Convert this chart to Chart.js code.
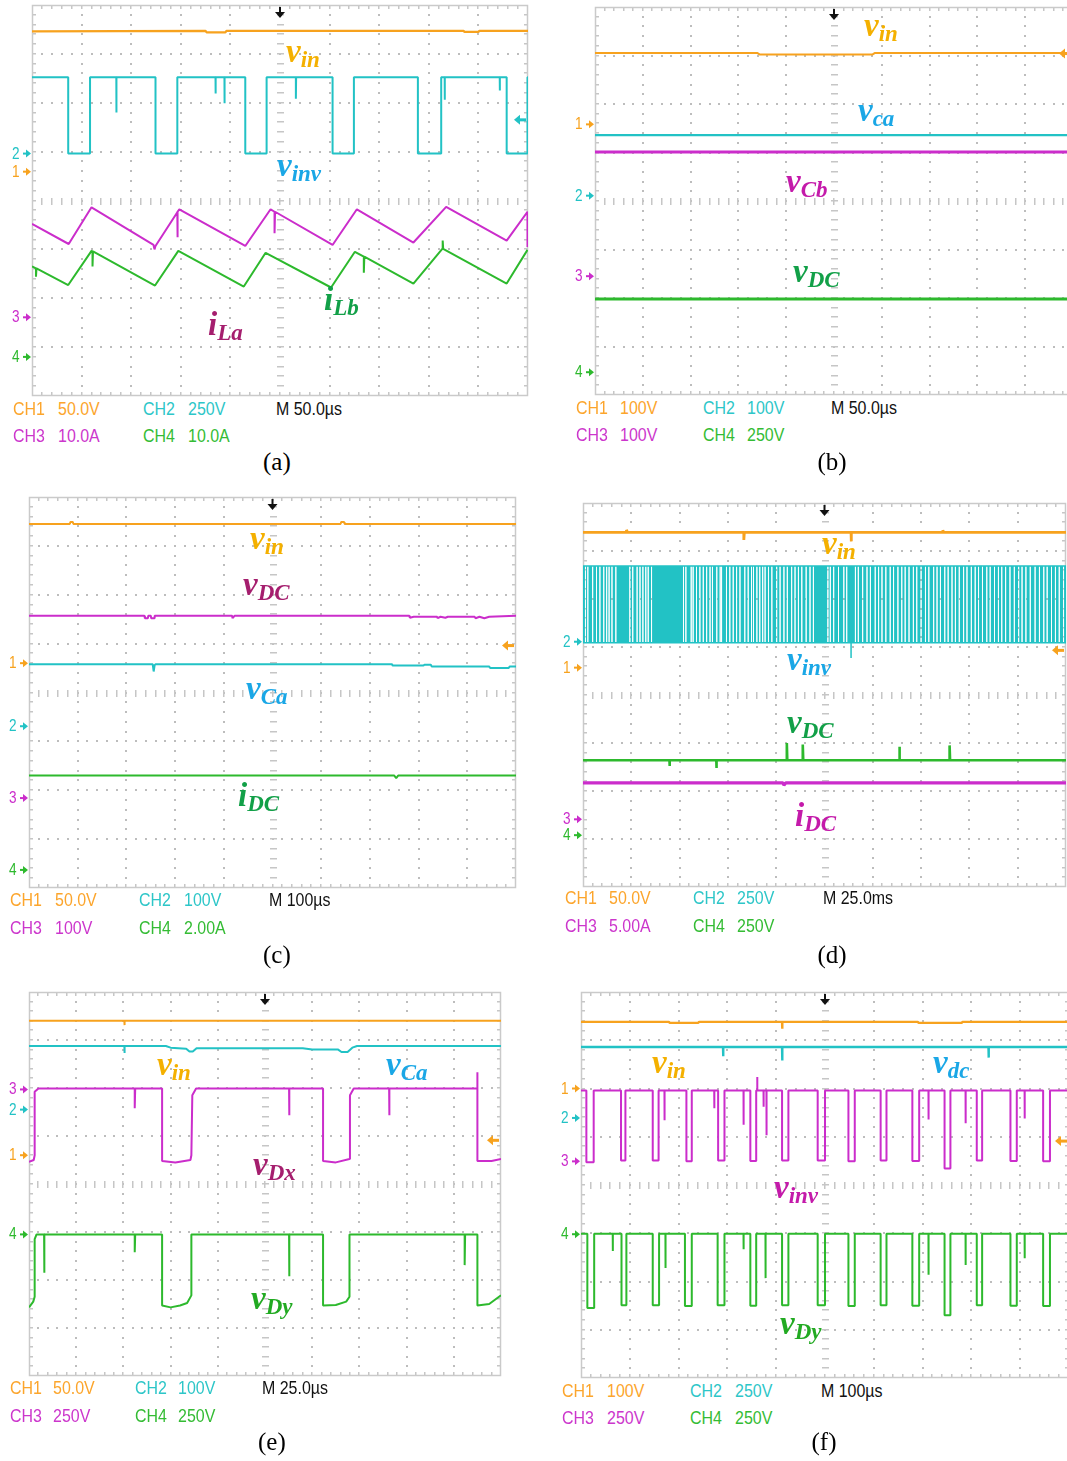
<!DOCTYPE html>
<html>
<head>
<meta charset="utf-8">
<script src="https://cdn.jsdelivr.net/npm/chart.js@4.4.1/dist/chart.umd.min.js"></script>
<style>
  html, body { margin: 0; padding: 0; background: #fff; overflow: hidden; }
  #page { position: relative; width: 1067px; height: 1461px; overflow: hidden; background: #fff; }
  #page canvas { position: absolute; }
  .lab { position: absolute; font-family: "Liberation Serif", "Times New Roman", serif; font-style: italic; font-weight: bold;
         font-size: 33px; line-height: 1; white-space: nowrap; }
  .lab sub { font-size: 23px; vertical-align: baseline; position: relative; top: 5px; }
  .st { position: absolute; font-family: "Liberation Sans", Arial, sans-serif; font-size: 19px; line-height: 1;
        white-space: nowrap; transform: scaleX(0.84); transform-origin: 0 0; }
  .gnd { position: absolute; font-family: "Liberation Sans", Arial, sans-serif; font-size: 16px; line-height: 1;
         transform: scaleX(0.85); transform-origin: 0 0; }
  .cap { position: absolute; font-family: "Liberation Serif", "Times New Roman", serif; font-size: 25px; line-height: 1;
         white-space: nowrap; }
</style>
</head>
<body>
<div id="page"></div>
<script>
// Screen units: x in horizontal divisions (0..10), y in vertical divisions (0 = bottom, 8 = top).

// ---------- (a) ----------
const aVin = [[0,7.46],[3.50,7.47],[3.52,7.44],[3.90,7.44],[3.92,7.47],[8.70,7.47],[8.72,7.45],[9.00,7.45],[9.02,7.47],[10,7.47]];
const aInvHigh = 6.52, aInvLow = 4.96;
const aInvFall = [0.73, 2.49, 4.30, 6.06, 7.78, 9.57];
const aInvRise = [1.17, 2.93, 4.73, 6.49, 8.25, 9.99];
const aInvSpikes = [[1.70,5.80],[3.70,6.19],[3.88,5.99],[5.32,6.08],[8.32,6.06],[9.43,6.25]];
const aILa = [[0,3.52],[0.74,3.11],[1.20,3.86],[2.45,3.09],[2.47,3.00],[2.49,3.07],[2.93,3.76],[2.93,3.25],[2.94,3.77],
              [2.97,3.82],[4.30,3.07],[4.81,3.82],[4.89,3.77],[4.89,3.33],[4.90,3.77],[6.06,3.09],[6.55,3.82],
              [7.69,3.14],[8.35,3.87],[9.57,3.18],[9.99,3.77],[9.99,3.05]];
const aILb = [[0,2.65],[0.08,2.61],[0.08,2.44],[0.09,2.61],[0.73,2.27],[1.20,2.97],[1.22,2.96],[1.22,2.65],[1.23,2.96],
              [2.48,2.26],[2.95,2.97],[4.27,2.24],[4.71,2.93],[6.03,2.22],[6.51,2.95],[6.69,2.85],[6.69,2.52],
              [6.70,2.85],[7.69,2.30],[8.28,3.02],[8.28,3.18],[8.29,3.01],[9.57,2.30],[9.99,2.99]];
const aGnd = [4.59, 4.96, 1.61, 0.80];   // CH1..CH4 ground markers
const aTrig = 5.65;
const aSet = ['50.0V', '250V', '10.0A', '10.0A', 'M 50.0\u00b5s'];

// ---------- (b) ----------
const bVin = [[0,7.05],[3.40,7.05],[3.45,7.02],[5.80,7.02],[5.85,7.05],[10,7.05]];
const bVca = [[0,5.36],[10,5.36]];
const bVcb = [[0,5.01],[10,5.01]];
const bVdc = [[0,1.98],[10,1.98]];
const bGnd = [5.58, 4.11, 2.45, 0.47];
const bTrig = 7.04;
const bSet = ['100V', '100V', '100V', '250V', 'M 50.0\u00b5s'];

// ---------- (c) ----------
const cVin = [[0,7.45],[0.84,7.45],[0.85,7.49],[0.90,7.49],[0.91,7.45],[6.40,7.45],[6.41,7.49],[6.47,7.49],[6.48,7.45],[10,7.45]];
const cVdc = [[0,5.57],[2.37,5.57],[2.38,5.52],[2.44,5.52],[2.45,5.57],[2.50,5.57],[2.51,5.52],[2.57,5.52],[2.58,5.57],
              [4.17,5.57],[4.18,5.52],[4.22,5.57],[7.81,5.57],[7.82,5.53],[7.90,5.55],[8.38,5.55],[8.39,5.52],
              [8.45,5.55],[8.55,5.53],[8.60,5.55],[9.15,5.55],[9.17,5.52],[9.25,5.55],[9.35,5.52],[9.45,5.55],[10,5.57]];
const cVca = [[0,4.58],[2.54,4.58],[2.56,4.43],[2.58,4.56],[2.60,4.58],[7.45,4.58],[7.47,4.55],[8.10,4.55],[8.12,4.57],
              [8.25,4.57],[8.27,4.53],[9.45,4.53],[9.47,4.50],[9.85,4.50],[9.87,4.53],[10,4.53]];
const cIdc = [[0,2.30],[7.50,2.30],[7.54,2.25],[7.58,2.30],[10,2.30]];
const cGnd = [4.60, 3.31, 1.84, 0.37];
const cTrig = 4.96;
const cSet = ['50.0V', '100V', '100V', '2.00A', 'M 100\u00b5s'];

// ---------- (d) ----------
const dVin = [[0,7.39],[0.90,7.39],[0.90,7.44],[0.92,7.39],[3.33,7.39],[3.33,7.23],[3.34,7.39],[5.55,7.39],[5.55,7.20],
              [5.56,7.39],[7.45,7.39],[7.45,7.43],[7.47,7.39],[10,7.39]];
const dInvHigh = 6.69, dInvLow = 5.09;
// white stripes inside the aliased switching band
const dInvGaps = [0.05,0.10,0.20,0.28,0.35,0.43,0.49,0.54,0.60,0.68,0.97,1.03,1.12,1.18,1.24,1.30,1.35,1.42,
                  2.08,2.13,2.24,2.28,2.35,2.42,2.49,2.56,2.63,2.68,2.77,2.84,2.87,2.97,3.04,3.11,3.18,3.25,3.35,
                  3.42,3.49,3.53,3.60,3.66,3.72,3.77,3.84,3.91,4.01,4.08,4.16,4.23,4.32,4.39,4.46,4.53,4.62,4.70,
                  4.77,5.07,5.12,5.19,5.29,5.40,5.46,5.64,5.70,5.79,5.88,5.95,6.05,6.12,6.19,6.27,6.36,6.43,6.52,
                  6.60,6.67,6.75,6.84,6.91,7.00,7.09,7.16,7.26,7.33,7.40,7.49,7.56,7.64,7.71,7.79,7.88,7.95,8.04,
                  8.12,8.19,8.27,8.36,8.43,8.52,8.60,8.67,8.75,8.84,8.93,9.02,9.09,9.17,9.26,9.36,9.45,9.54,9.61,
                  9.70,9.78,9.86,9.95];
const dInvSpike = [[5.55,5.09],[5.55,4.77]];
const dVdc = [[0,2.64],[1.79,2.64],[1.79,2.52],[1.80,2.64],[2.76,2.64],[2.76,2.48],[2.77,2.64],[4.22,2.64],[4.22,3.00],
              [4.23,2.64],[4.55,2.64],[4.55,2.97],[4.56,2.64],[6.55,2.64],[6.55,2.92],[6.56,2.64],[7.59,2.64],
              [7.59,2.95],[7.60,2.64],[10,2.64]];
const dIdc = [[0,2.17],[4.14,2.17],[4.16,2.12],[4.20,2.17],[10,2.17]];
const dGnd = [4.57, 5.11, 1.41, 1.08];
const dTrig = 4.93;
const dSet = ['50.0V', '250V', '5.00A', '250V', 'M 25.0ms'];

// ---------- (e) ----------
const eVin = [[0,7.40],[2.02,7.40],[2.02,7.31],[2.03,7.40],[10,7.40]];
const eVca = [[0,6.875],[2.02,6.875],[2.02,6.73],[2.03,6.875],[2.90,6.875],[3.00,6.84],[3.33,6.82],[3.40,6.76],
              [3.47,6.76],[3.55,6.83],[5.80,6.83],[6.00,6.80],[6.55,6.80],[6.62,6.75],[6.75,6.75],[6.85,6.84],
              [6.95,6.875],[10,6.875]];
const eVdx = [[0,4.46],[0.10,4.50],[0.12,4.60],[0.12,5.92],[0.20,5.99],[2.24,5.99],[2.24,5.58],[2.25,5.99],[2.82,5.99],
              [2.82,4.48],[3.10,4.45],[3.42,4.50],[3.44,4.60],[3.46,5.85],[3.54,5.99],[5.51,5.99],[5.51,5.43],
              [5.52,5.99],[6.23,5.99],[6.23,4.48],[6.50,4.45],[6.79,4.52],[6.80,5.85],[6.88,5.99],[7.63,5.99],
              [7.63,5.43],[7.64,5.99],[9.50,5.99],[9.50,6.33],[9.50,4.48],[9.80,4.48],[10,4.52]];
const eVdy = [[0,1.43],[0.09,1.55],[0.12,1.65],[0.12,2.85],[0.16,2.95],[0.32,2.95],[0.32,2.15],[0.33,2.95],[2.24,2.95],
              [2.24,2.58],[2.25,2.95],[2.82,2.95],[2.82,1.47],[3.00,1.43],[3.20,1.47],[3.35,1.52],[3.44,1.68],
              [3.44,2.95],[5.51,2.95],[5.51,2.08],[5.52,2.95],[6.23,2.95],[6.23,1.47],[6.50,1.48],[6.72,1.55],
              [6.79,1.65],[6.79,2.95],[9.23,2.95],[9.23,2.31],[9.24,2.95],[9.50,2.95],[9.50,1.47],[9.75,1.50],[10,1.68]];
const eGnd = [4.60, 5.55, 5.97, 2.95];
const eTrig = 4.91;
const eSet = ['50.0V', '100V', '250V', '250V', 'M 25.0\u00b5s'];

// ---------- (f) ----------
const fVin = [[0,7.38],[1.80,7.38],[1.82,7.36],[2.40,7.36],[2.42,7.38],[4.12,7.38],[4.12,7.24],[4.13,7.38],
              [6.90,7.38],[6.92,7.36],[7.80,7.36],[7.82,7.38],[10,7.38]];
const fVdc = [[0,6.86],[2.91,6.86],[2.91,6.67],[2.92,6.86],[4.12,6.86],[4.12,6.58],[4.13,6.86],[8.35,6.86],
              [8.35,6.64],[8.36,6.86],[10,6.86]];
const fInvHigh = 5.96;
const fInvFall = [0.11,0.82,1.47,2.16,2.81,3.47,4.12,4.85,5.48,6.14,6.79,7.45,8.11,8.80,9.47];
const fInvRise = [0.26,0.91,1.59,2.27,2.94,3.59,4.25,5.00,5.61,6.26,6.93,7.57,8.22,8.93,9.61];
const fInvLow  = [4.47,4.51,4.51,4.49,4.51,4.50,4.51,4.51,4.49,4.51,4.50,4.34,4.51,4.50,4.49];
const fInvSpikes = [[1.71,5.34],[2.73,5.59],[3.33,5.25],[3.61,6.24],[3.74,5.62],[3.80,5.03],[7.12,5.36],[7.88,5.28],[9.09,5.38]];
const fDyHigh = 2.99;
const fDyFall = [0.13,0.83,1.47,2.13,2.80,3.47,4.12,4.85,5.48,6.14,6.79,7.45,8.11,8.80,9.47];
const fDyRise = [0.27,0.93,1.60,2.27,2.94,3.59,4.25,5.00,5.61,6.26,6.93,7.57,8.22,8.93,9.61];
const fDyLow  = [1.45,1.51,1.51,1.49,1.51,1.50,1.51,1.51,1.49,1.51,1.50,1.30,1.51,1.50,1.49];
const fDySpikes = [[0.65,2.63],[1.73,2.28],[3.33,2.67],[3.78,2.07],[7.12,2.14],[7.88,2.34],[9.09,2.48]];
const fGnd = [6.00, 5.39, 4.49, 2.98];
const fTrig = 4.91;
const fSet = ['100V', '250V', '250V', '250V', 'M 100\u00b5s'];

// ---------- colours ----------
const C1 = '#f7a21e', C2 = '#22c2c5', C3 = '#cb2dcb', C4 = '#2db92d';
const T1 = '#fca52c', T2 = '#2dc6c8', T3 = '#cc36cc', T4 = '#34bc34';
const L_IN = '#f4b000', L_BLUE = '#1aa7e6', L_WINE = '#a51e6e', L_GREEN = '#12a048', L_MAG = '#c41aaa', L_LIME = '#22aa22';
const GRID = '#bdbdbd', TICK = '#c6c6c6', FRAME = '#cacaca';

// ---------- helpers ----------
function squareWave(start, edges, spikes) {
  const ev = edges.map(e => ({ x: e[0], y: e[1], s: false }))
    .concat(spikes.map(s => ({ x: s[0], y: s[1], s: true })))
    .sort((p, q) => p.x - q.x);
  let cur = start;
  const pts = [[0, start]];
  for (const e of ev) {
    if (e.s) { pts.push([e.x, cur], [e.x, e.y], [e.x + 0.005, cur]); }
    else { pts.push([e.x, cur], [e.x, e.y]); cur = e.y; }
  }
  pts.push([10, cur]);
  return pts;
}
function pulseEdges(falls, rises, lows, high) {
  const out = [];
  falls.forEach((f, i) => { out.push([f, Array.isArray(lows) ? lows[i] : lows]); out.push([rises[i], high]); });
  return out;
}
function bandRuns(gaps, gapWidth) {
  const runs = []; let s = 0;
  for (const g of gaps) { runs.push([s, g - gapWidth / 2]); s = g + gapWidth / 2; }
  runs.push([s, 10]);
  return runs;
}

const aInv = squareWave(aInvHigh, pulseEdges(aInvFall, aInvRise, aInvLow, aInvHigh), aInvSpikes);
const fInv = squareWave(fInvHigh, pulseEdges(fInvFall, fInvRise, fInvLow, fInvHigh), fInvSpikes);
const fDy  = squareWave(fDyHigh, pulseEdges(fDyFall, fDyRise, fDyLow, fDyHigh), fDySpikes);
const dRuns = bandRuns(dInvGaps, 0.02);

// ---------- panel layout ----------
const PANELS = [
  { box: [32, 5, 496, 391], gnd: aGnd, trig: { y: aTrig, c: C2 },
    traces: [ { d: aVin, c: C1, w: 2.2 }, { d: aInv, c: C2, w: 2 }, { d: aILa, c: C3, w: 2 }, { d: aILb, c: C4, w: 2 } ],
    set: aSet, setX: [13, 58, 143, 188, 276], setY: [401, 428], cap: ['(a)', 277, 470],
    labels: [ ['v', 'in', 286, 63, L_IN], ['v', 'inv', 277, 177, L_BLUE], ['i', 'Lb', 324, 311, L_GREEN], ['i', 'La', 208, 336, L_WINE] ] },
  { box: [595, 7, 478, 388], gnd: bGnd, trig: { y: bTrig, c: C1 },
    traces: [ { d: bVin, c: C1, w: 2 }, { d: bVca, c: C2, w: 2.2 }, { d: bVcb, c: C3, w: 3 }, { d: bVdc, c: C4, w: 3 } ],
    set: bSet, setX: [576, 620, 703, 747, 831], setY: [400, 427], cap: ['(b)', 832, 470],
    labels: [ ['v', 'in', 864, 37, L_IN], ['v', 'ca', 858, 122, L_BLUE], ['v', 'Cb', 786, 193, L_MAG], ['v', 'DC', 793, 283, L_GREEN] ] },
  { box: [29, 497, 487, 391], gnd: cGnd, trig: { y: cTrig, c: C1 },
    traces: [ { d: cVin, c: C1, w: 2 }, { d: cVdc, c: C3, w: 2 }, { d: cVca, c: C2, w: 2 }, { d: cIdc, c: C4, w: 2 } ],
    set: cSet, setX: [10, 55, 139, 184, 269], setY: [892, 920], cap: ['(c)', 277, 963],
    labels: [ ['v', 'in', 250, 550, L_IN], ['v', 'DC', 243, 596, L_WINE], ['v', 'Ca', 246, 700, L_BLUE], ['i', 'DC', 238, 807, L_GREEN] ] },
  { box: [583, 503, 483, 384], gnd: dGnd, trig: { y: dTrig, c: C1 }, band: { runs: dRuns, hi: dInvHigh, lo: dInvLow, c: C2 },
    traces: [ { d: dVin, c: C1, w: 2.8 }, { d: dInvSpike, c: C2, w: 1.5 }, { d: dVdc, c: C4, w: 2.6 }, { d: dIdc, c: C3, w: 3.2 } ],
    set: dSet, setX: [565, 609, 693, 737, 823], setY: [890, 918], cap: ['(d)', 832, 963],
    labels: [ ['v', 'in', 822, 555, L_IN], ['v', 'inv', 787, 671, L_BLUE], ['v', 'DC', 787, 734, L_GREEN], ['i', 'DC', 795, 827, L_MAG] ] },
  { box: [29, 992, 472, 384], gnd: eGnd, trig: { y: eTrig, c: C1 },
    traces: [ { d: eVin, c: C1, w: 2 }, { d: eVca, c: C2, w: 2 }, { d: eVdx, c: C3, w: 2 }, { d: eVdy, c: C4, w: 2 } ],
    set: eSet, setX: [10, 53, 135, 178, 262], setY: [1380, 1408], cap: ['(e)', 272, 1450],
    labels: [ ['v', 'in', 157, 1076, L_IN], ['v', 'Ca', 386, 1076, L_BLUE], ['v', 'Dx', 253, 1176, L_WINE], ['v', 'Dy', 251, 1310, L_LIME] ] },
  { box: [581, 992, 488, 386], gnd: fGnd, trig: { y: fTrig, c: C1 },
    traces: [ { d: fVin, c: C1, w: 2.4 }, { d: fVdc, c: C2, w: 2.4 }, { d: fInv, c: C3, w: 2 }, { d: fDy, c: C4, w: 2 } ],
    set: fSet, setX: [562, 607, 690, 735, 821], setY: [1383, 1410], cap: ['(f)', 824, 1450],
    labels: [ ['v', 'in', 652, 1074, L_IN], ['v', 'dc', 933, 1074, L_BLUE], ['v', 'inv', 774, 1199, L_MAG], ['v', 'Dy', 780, 1335, L_LIME] ] }
];
const CH_COL = [C1, C2, C3, C4];
const TXT_COL = [T1, T2, T3, T4];

// ---------- oscilloscope graticule, markers and trigger arrows ----------
const scopePlugin = {
  id: 'scope',
  beforeDatasetsDraw(chart) {
    const { ctx, chartArea: a, scales: { x, y } } = chart;
    const px = v => x.getPixelForValue(v), py = v => y.getPixelForValue(v);
    ctx.save();
    ctx.fillStyle = GRID;
    const dot = (X, Y) => ctx.fillRect(Math.round(X) - 1, Math.round(Y) - 1, 2, 2);
    for (let i = 1; i < 10; i++) { if (i === 5) continue; for (let k = 1; k < 40; k++) dot(px(i), py(k / 5)); }
    for (let j = 1; j < 8; j++) { if (j === 4) continue; for (let k = 1; k < 50; k++) dot(px(k / 5), py(j)); }
    // centre cross with minor ticks
    ctx.fillStyle = TICK;
    for (let k = 1; k < 50; k++) ctx.fillRect(Math.round(px(k / 5)) - 1, Math.round(py(4)) - 3, 1.5, 7);
    for (let k = 1; k < 40; k++) ctx.fillRect(Math.round(px(5)) - 3, Math.round(py(k / 5)) - 1, 7, 1.5);
    // minor ticks along the frame
    for (let k = 1; k < 50; k++) {
      const X = Math.round(px(k / 5)) - 1;
      ctx.fillRect(X, a.top, 1.5, 4); ctx.fillRect(X, a.bottom - 4, 1.5, 4);
    }
    for (let k = 1; k < 40; k++) {
      const Y = Math.round(py(k / 5)) - 1;
      ctx.fillRect(a.left, Y, 4, 1.5); ctx.fillRect(a.right - 4, Y, 4, 1.5);
    }
    ctx.strokeStyle = FRAME; ctx.lineWidth = 1.5;
    ctx.strokeRect(a.left + 0.5, a.top + 0.5, a.right - a.left - 1, a.bottom - a.top - 1);
    ctx.restore();
  },
  afterDatasetsDraw(chart, args, opts) {
    const { ctx, chartArea: a, scales: { x, y } } = chart;
    ctx.save();
    // channel ground markers (arrow heads; digits are page text)
    opts.gnd.forEach((lv, i) => {
      const Y = y.getPixelForValue(lv), X = a.left - 1;
      ctx.fillStyle = CH_COL[i];
      ctx.fillRect(X - 8, Y - 1, 4, 2);
      ctx.beginPath(); ctx.moveTo(X - 5, Y - 4); ctx.lineTo(X, Y); ctx.lineTo(X - 5, Y + 4); ctx.closePath(); ctx.fill();
    });
    // trigger position
    const TX = x.getPixelForValue(5);
    ctx.fillStyle = '#111';
    ctx.fillRect(TX - 1, a.top + 2, 2, 6);
    ctx.beginPath(); ctx.moveTo(TX - 5, a.top + 7); ctx.lineTo(TX + 5, a.top + 7); ctx.lineTo(TX, a.top + 13); ctx.closePath(); ctx.fill();
    // trigger level
    const TY = y.getPixelForValue(opts.trig.y), R = a.right - 1;
    ctx.fillStyle = opts.trig.c;
    ctx.fillRect(R - 8, TY - 1.5, 7, 3);
    ctx.beginPath(); ctx.moveTo(R - 7, TY - 5); ctx.lineTo(R - 7, TY + 5); ctx.lineTo(R - 13, TY); ctx.closePath(); ctx.fill();
    ctx.restore();
  }
};

const page = document.getElementById('page');
const PADL = 30, PADR = 2, PADT = 2, PADB = 2;

function addText(cls, html, left, top, color) {
  const el = document.createElement('div');
  el.className = cls; el.innerHTML = html;
  el.style.left = left + 'px'; el.style.top = top + 'px';
  if (color) el.style.color = color;
  page.appendChild(el);
  return el;
}

PANELS.forEach(P => {
  const [l, t, w, h] = P.box;
  const W = w + PADL + PADR, H = h + PADT + PADB;
  const cv = document.createElement('canvas');
  cv.width = W; cv.height = H;
  cv.style.left = (l - PADL) + 'px'; cv.style.top = (t - PADT) + 'px';
  cv.style.width = W + 'px'; cv.style.height = H + 'px';
  page.appendChild(cv);

  const toXY = pts => pts.map(p => ({ x: p[0], y: p[1] }));
  const datasets = P.traces.map(tr => ({
    data: toXY(tr.d), borderColor: tr.c, borderWidth: tr.w, pointRadius: 0, tension: 0,
    fill: false, spanGaps: false, borderJoinStyle: 'bevel'
  }));
  if (P.band) {
    const B = P.band;
    const pts = [];
    B.runs.forEach(([s, e]) => { pts.push({ x: s, y: B.hi }, { x: e, y: B.hi }, { x: e, y: null }); });
    datasets.push({ data: pts, borderColor: B.c, borderWidth: 0, backgroundColor: B.c, pointRadius: 0,
                    tension: 0, spanGaps: false, fill: { value: B.lo } });
    datasets.push({ data: [{ x: 0, y: B.hi }, { x: 10, y: B.hi }], borderColor: B.c, borderWidth: 1.5, pointRadius: 0, fill: false });
    datasets.push({ data: [{ x: 0, y: B.lo }, { x: 10, y: B.lo }], borderColor: B.c, borderWidth: 1.5, pointRadius: 0, fill: false });
  }

  const chart = new Chart(cv, {
    type: 'line',
    data: { datasets },
    options: {
      responsive: false, animation: false, devicePixelRatio: 1, events: [],
      layout: { padding: { left: PADL, right: PADR, top: PADT, bottom: PADB } },
      scales: {
        x: { type: 'linear', min: 0, max: 10, display: false },
        y: { type: 'linear', min: 0, max: 8, display: false }
      },
      plugins: { legend: { display: false }, tooltip: { enabled: false },
                 scope: { gnd: P.gnd, trig: P.trig } }
    },
    plugins: [scopePlugin]
  });

  // channel ground digits
  P.gnd.forEach((lv, i) => {
    const Y = chart.scales.y.getPixelForValue(lv) + t - PADT;
    addText('gnd', String(i + 1), l - 20, Math.round(Y - 8), CH_COL[i]);
  });

  // channel settings read-out
  const [x1, v1, x2, v2, xm] = P.setX;
  const [r1, r2] = P.setY.map(c => c - 2.5);
  addText('st', 'CH1', x1, r1, TXT_COL[0]); addText('st', P.set[0], v1, r1, TXT_COL[0]);
  addText('st', 'CH2', x2, r1, TXT_COL[1]); addText('st', P.set[1], v2, r1, TXT_COL[1]);
  addText('st', P.set[4], xm, r1, '#111');
  addText('st', 'CH3', x1, r2, TXT_COL[2]); addText('st', P.set[2], v1, r2, TXT_COL[2]);
  addText('st', 'CH4', x2, r2, TXT_COL[3]); addText('st', P.set[3], v2, r2, TXT_COL[3]);

  // waveform names
  P.labels.forEach(([m, s, lx, base, col]) => addText('lab', m + '<sub>' + s + '</sub>', lx, base - 27.6, col));

  // caption
  const cap = addText('cap', P.cap[0], 0, P.cap[2] - 20.9, '#000');
  cap.style.left = (P.cap[1] - cap.offsetWidth / 2) + 'px';
});
</script>
</body>
</html>
